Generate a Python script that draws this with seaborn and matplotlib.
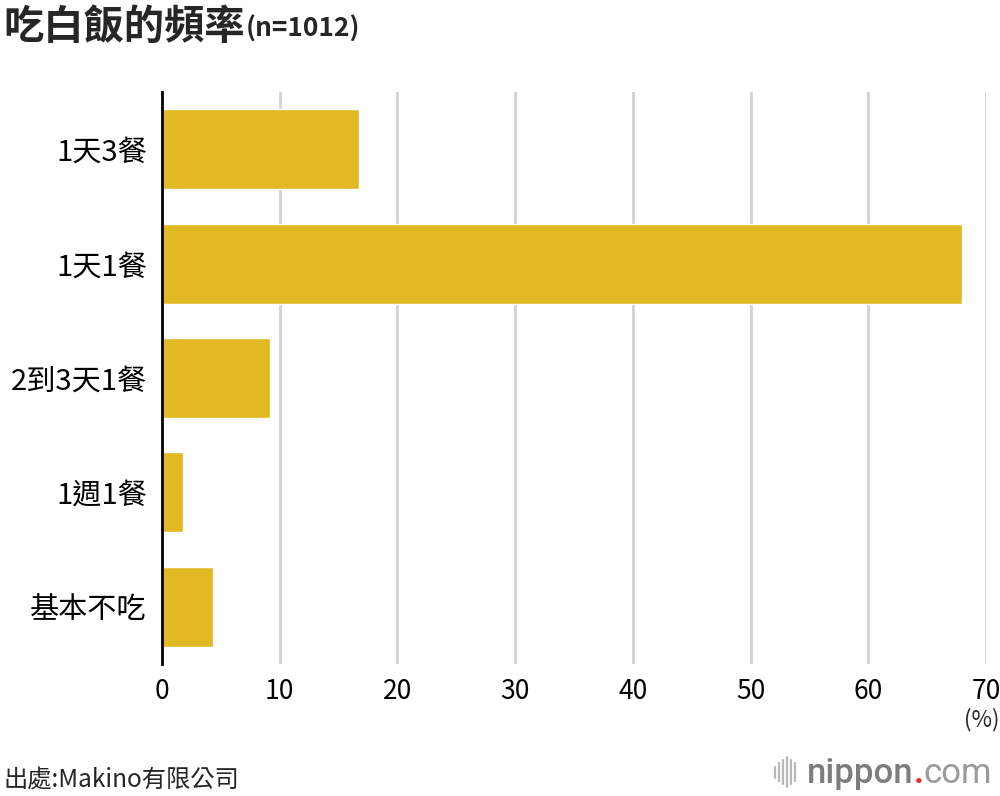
import matplotlib
matplotlib.use("Agg")
import matplotlib.pyplot as plt
import seaborn as sns
import pandas as pd
from matplotlib.lines import Line2D

# Data
categories = ['1天3餐', '1天1餐', '2到3天1餐', '1週1餐', '基本不吃']
percent = [16.7, 68.0, 9.2, 1.8, 4.3]
xticks = [0, 10, 20, 30, 40, 50, 60, 70]

sns.set_theme(style='white')
plt.rcParams['font.family'] = ['Noto Sans CJK TC', 'DejaVu Sans']

df = pd.DataFrame({'cat': categories, 'pct': percent})

fig = plt.figure(figsize=(10, 7.96), dpi=100)
ax = fig.add_axes([0.162, 0.166, 0.824, 0.718])

for x in xticks[1:]:
    ax.axvline(x, color='#d2d2d2', lw=2, zorder=0)

sns.barplot(data=df, x='pct', y='cat', color='#E0B923', saturation=1,
            width=0.7, ax=ax, zorder=2)

ax.set_xlim(0, 70)
ax.set_ylim(4.5, -0.5)
ax.set_xticks(xticks)
ax.set_xticklabels([str(v) for v in xticks])
ax.set_xlabel('')
ax.set_ylabel('')
for s in ['top', 'right', 'bottom']:
    ax.spines[s].set_visible(False)
ax.spines['left'].set_color('black')
ax.spines['left'].set_linewidth(2)
ax.spines['left'].set_zorder(3)
ax.tick_params(axis='x', length=0, pad=10, labelsize=19)
ax.tick_params(axis='y', length=0, pad=11, labelsize=21)
for t in ax.get_xticklabels() + ax.get_yticklabels():
    t.set_color('black')

# Title
fig.text(0.003, 0.966, '吃白飯的頻率', fontsize=29, fontweight='bold', va='center', ha='left')
fig.text(0.246, 0.963, '(n=1012)', fontsize=19, fontweight='bold', va='center', ha='left')

# unit label
fig.text(0.999, 0.096, '(%)', fontsize=16, ha='right', va='center')

# source
fig.text(0.003, 0.021, '出處:Makino有限公司', fontsize=17.5, ha='left', va='center')

# nippon.com logo
for h, x in zip([0.014, 0.022, 0.03, 0.038, 0.03, 0.022],
                [0.775, 0.779, 0.783, 0.787, 0.791, 0.795]):
    fig.add_artist(Line2D([x, x], [0.03 - h / 2, 0.03 + h / 2], color='#b8b8b8', lw=1.6))

fig.canvas.draw()
r = fig.canvas.get_renderer()
x0 = 0.807
for txt, col, wt in [('nippon', '#7d7d7d', 'medium'), ('.', '#e5322d', 'bold'), ('com', '#9a9a9a', 'normal')]:
    t = fig.text(x0, 0.028, txt, fontsize=25, color=col, fontweight=wt,
                 ha='left', va='center', family=['Roboto', 'DejaVu Sans'])
    bb = t.get_window_extent(renderer=r)
    x0 += bb.width / fig.bbox.width

fig.savefig('out.png', dpi=100, facecolor='white')
